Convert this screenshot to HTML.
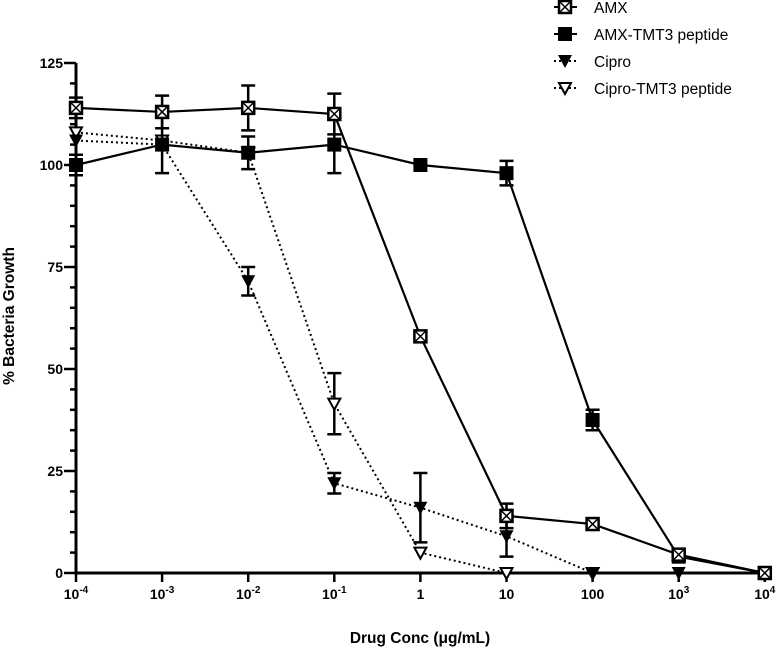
<!DOCTYPE html>
<html><head><meta charset="utf-8"><style>
body{margin:0;background:#fff}
svg{display:block;font-family:"Liberation Sans",Arial,sans-serif}
</style></head><body>
<svg id="chart" width="777" height="648" viewBox="0 0 777 648" xmlns="http://www.w3.org/2000/svg">
<g id="axes"></g>
<g id="series"></g>
<g id="legend"></g>
<text x="0" y="0" transform="translate(14,316) rotate(-90)" text-anchor="middle" font-size="15.5" font-weight="bold">% Bacteria Growth</text>
<text x="420" y="643" text-anchor="middle" font-size="15.5" font-weight="bold">Drug Conc (μg/mL)</text>
</svg>
<script>
const xExp=[-4,-3,-2,-1,0,1,2,3,4];
const xTickLabels=["10^-4","10^-3","10^-2","10^-1","1","10","100","10^3","10^4"];
const yTicks=[0,25,50,75,100,125];
const amxX=[-4,-3,-2,-1,0,1,2,3,4];
const amxY=[114,113,114,112.5,58,14,12,4.5,0];
const amxE=[2.5,4,5.5,5,0,3,0,0,0];
const amxTX=[-4,-3,-2,-1,0,1,2,3,4];
const amxTY=[100,105,103,105,100,98,37.5,4,0];
const amxTE=[2.5,7,4,7,0,3,2.5,0,0];
const ciproX=[-4,-3,-2,-1,0,1,2,3];
const ciproY=[106,105,71.5,22,16,9,0,0];
const ciproE=[0,0,3.5,2.5,8.5,5,0,0];
const ciproTX=[-4,-3,-2,-1,0,1,2];
const ciproTY=[108,106,103,41.5,5,0,0];
const ciproTE=[0,0,0,7.5,0,0,0];

const NS="http://www.w3.org/2000/svg";
const X0=76,DEC=86.1,Y0=573,YS=102/25;
const sx=e=>X0+(e+4)*DEC, sy=v=>Y0-v*YS;
function mk(parent,tag,attrs){const el=document.createElementNS(NS,tag);for(const k in attrs)el.setAttribute(k,attrs[k]);parent.appendChild(el);return el;}
const axes=document.getElementById('axes');
let l=mk(axes,'line',{x1:X0,y1:Y0,x2:sx(4)+1,y2:Y0,stroke:'#000','stroke-width':3});

l=mk(axes,'line',{x1:X0,y1:Y0+1,x2:X0,y2:sy(125),stroke:'#000','stroke-width':3});

for(let v=0;v<=125;v+=5){const major=v%25===0;const t=mk(axes,'line',{x1:X0-(major?12:6),y1:sy(v),x2:X0,y2:sy(v),stroke:'#000','stroke-width':2.5});
}
yTicks.forEach(v=>{const t=mk(axes,'text',{x:X0-13,y:sy(v)+5,'text-anchor':'end','font-size':14,'font-weight':'bold'});t.textContent=v;
});
xExp.forEach((e,i)=>{const t=mk(axes,'line',{x1:sx(e),y1:Y0,x2:sx(e),y2:Y0+9,stroke:'#000','stroke-width':2.5});

const lab=xTickLabels[i];const tx=mk(axes,'text',{x:sx(e),y:Y0+26,'text-anchor':'middle','font-size':14,'font-weight':'bold'});

if(lab.includes('^')){const [b,p]=lab.split('^');tx.textContent=b;const ts=mk(tx,'tspan',{dy:-6,'font-size':10});ts.textContent=p;}else tx.textContent=lab;});

function marker(g,type,x,y){
 if(type==='xsq'){mk(g,'rect',{x:x-6,y:y-6,width:12,height:12,fill:'#fff',stroke:'#000','stroke-width':2.5});
  mk(g,'path',{d:`M${x-5} ${y-5}L${x+5} ${y+5}M${x+5} ${y-5}L${x-5} ${y+5}`,stroke:'#000','stroke-width':1.5});}
 else if(type==='sq'){mk(g,'rect',{x:x-7,y:y-7,width:14,height:14,fill:'#000'});}
 else if(type==='tri'){mk(g,'path',{d:`M${x-7} ${y-6}L${x+7} ${y-6}L${x} ${y+7}Z`,fill:'#000'});}
 else {mk(g,'path',{d:`M${x-6} ${y-5}L${x+6} ${y-5}L${x} ${y+6}Z`,fill:'#fff',stroke:'#000','stroke-width':2});}
}
const seriesG=document.getElementById('series');
function drawSeries(name,xs,ys,es,type,dash){
 const g=mk(seriesG,'g',{});
 
 const pts=xs.map((e,i)=>sx(e)+','+sy(ys[i])).join(' ');
 const pl=mk(g,'polyline',{points:pts,fill:'none',stroke:'#000','stroke-width':dash?2:2.2,'stroke-dasharray':dash?'2,3':'none'});
 
 xs.forEach((e,i)=>{const x=sx(e);if(es[i]>0){const eb=mk(g,'path',{d:`M${x} ${sy(ys[i]-es[i])}V${sy(ys[i]+es[i])}M${x-7} ${sy(ys[i]-es[i])}H${x+7}M${x-7} ${sy(ys[i]+es[i])}H${x+7}`,stroke:'#000','stroke-width':2.5,fill:'none'});
  }
  const mg=mk(g,'g',{});
  marker(mg,type,x,sy(ys[i]));});
}
drawSeries('cipro-tmt3-series',ciproTX,ciproTY,ciproTE,'otri',true);
drawSeries('cipro-series',ciproX,ciproY,ciproE,'tri',true);
drawSeries('amx-tmt3-series',amxTX,amxTY,amxTE,'sq',false);
drawSeries('amx-series',amxX,amxY,amxE,'xsq',false);

const leg=document.getElementById('legend');
const legItems=[["AMX","xsq",false],["AMX-TMT3 peptide","sq",false],["Cipro","tri",true],["Cipro-TMT3 peptide","otri",true]];
legItems.forEach((it,i)=>{const y=7+i*27;const g=mk(leg,'g',{});
 
 mk(g,'line',{x1:554,y1:y,x2:577,y2:y,stroke:'#000','stroke-width':2,'stroke-dasharray':it[2]?'2,3':'none'});
 marker(g,it[1],565,y);
 const t=mk(g,'text',{x:594,y:y+6,'font-size':15.5});t.textContent=it[0];});
</script>
</body></html>
